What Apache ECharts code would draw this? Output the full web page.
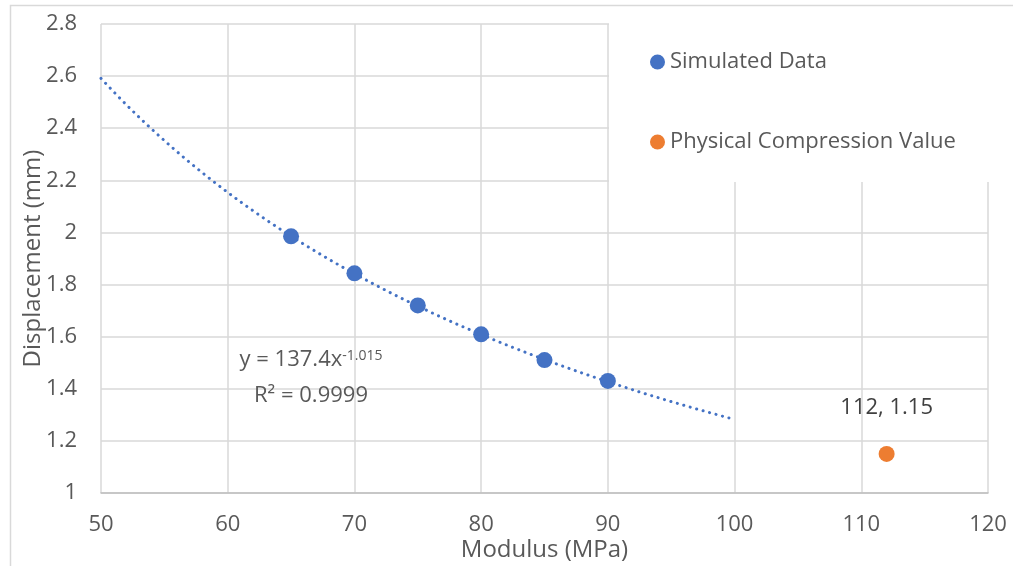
<!DOCTYPE html>
<html>
<head>
<meta charset="utf-8">
<script src="https://cdn.jsdelivr.net/npm/echarts@6/dist/echarts.min.js"></script>
<style>
  html, body { margin: 0; padding: 0; background: #fff; }
  #chart { width: 1013px; height: 566px; }
</style>
</head>
<body>
<div id="chart"></div>
<script>
// Simulated displacement at each modulus value
const modulus = [65, 70, 75, 80, 85, 90];
const displacement = [1.985, 1.843, 1.72, 1.609, 1.51, 1.43];

// Physically measured compression point
const physicalModulus = [112];
const physicalDisplacement = [1.15];

// Power-law trendline y = a * x^b, as printed on the chart
const trendCoef = 137.4;
const trendExponent = -1.015;
const trendRange = [50, 100];
const trendRSquared = '0.9999';

const xTicks = { min: 50, max: 120, step: 10 };
const yTicks = { min: 1, max: 2.8, step: 0.2 };

const FONT = '"Open Sans", sans-serif';
const TEXT = '#595959';
const BLUE = '#4472C4';
const ORANGE = '#ED7D31';

const trendData = [];
for (let x = trendRange[0]; x <= trendRange[1]; x += 0.5) {
  trendData.push([x, trendCoef * Math.pow(x, trendExponent)]);
}

const chart = echarts.init(document.getElementById('chart'), null, { renderer: 'canvas' });
chart.setOption({
  animation: false,
  backgroundColor: '#fff',
  textStyle: { fontFamily: FONT, color: TEXT },
  grid: { left: 101, right: 25, top: 24, bottom: 73, outerBoundsMode: 'none', containLabel: false },
  xAxis: {
    type: 'value',
    min: xTicks.min, max: xTicks.max, interval: xTicks.step,
    name: 'Modulus (MPa)',
    nameLocation: 'middle',
    nameGap: 45,
    nameMoveOverlap: false,
    nameTextStyle: { fontFamily: FONT, fontSize: 24, color: TEXT },
    axisLine: { show: true, lineStyle: { color: '#bfbfbf', width: 1.5 } },
    axisTick: { show: false },
    axisLabel: { fontFamily: FONT, fontSize: 22, color: TEXT, margin: 21 },
    splitLine: { show: true, lineStyle: { color: '#d9d9d9', width: 1.5 } }
  },
  yAxis: {
    type: 'value',
    min: yTicks.min, max: yTicks.max, interval: yTicks.step,
    name: 'Displacement (mm)',
    nameLocation: 'middle',
    nameGap: 56,
    nameMoveOverlap: false,
    nameTextStyle: { fontFamily: FONT, fontSize: 24, color: TEXT },
    axisLine: { show: false },
    axisTick: { show: false },
    axisLabel: {
      fontFamily: FONT, fontSize: 22, color: TEXT, margin: 24,
      formatter: v => String(parseFloat(v.toFixed(1)))
    },
    splitLine: { show: true, lineStyle: { color: '#d9d9d9', width: 1.5 } }
  },
  legend: {
    orient: 'vertical',
    left: 645,
    top: 46,
    itemGap: 58,
    itemWidth: 15,
    itemHeight: 15,
    icon: 'circle',
    data: ['Simulated Data', 'Physical Compression Value'],
    textStyle: { fontFamily: FONT, fontSize: 22, color: TEXT }
  },
  graphic: [
    // outer chart frame
    {
      type: 'rect', z: 0, silent: true,
      shape: { x: 10.5, y: 5.5, width: 1020, height: 600 },
      style: { fill: 'none', stroke: '#d9d9d9', lineWidth: 1.5 }
    },
    // legend backdrop
    {
      type: 'rect', z: 1, silent: true,
      shape: { x: 609, y: 7, width: 392, height: 175 },
      style: { fill: '#fff' }
    },
    // trendline equation
    {
      type: 'text', z: 5, silent: true,
      x: 311, y: 342,
      style: {
        text: '{b|y = 137.4x}{s|' + trendExponent + '}\n{b|R² = ' + trendRSquared + '}',
        align: 'center',
        fill: TEXT,
        rich: {
          b: { fontFamily: FONT, fontSize: 22, fill: TEXT, lineHeight: 36 },
          s: { fontFamily: FONT, fontSize: 14, fill: TEXT, lineHeight: 24, verticalAlign: 'top', padding: [7, 0, 0, 0] }
        }
      }
    }
  ],
  series: [
    {
      type: 'line',
      name: 'trend',
      data: trendData,
      showSymbol: false,
      smooth: false,
      z: 2,
      lineStyle: { color: BLUE, width: 3, type: [0.1, 6.6], cap: 'round' },
      silent: true
    },
    {
      type: 'scatter',
      name: 'Simulated Data',
      data: modulus.map((m, i) => [m, displacement[i]]),
      symbolSize: 16,
      z: 3,
      itemStyle: { color: BLUE, opacity: 1 }
    },
    {
      type: 'scatter',
      name: 'Physical Compression Value',
      data: physicalModulus.map((m, i) => [m, physicalDisplacement[i]]),
      symbolSize: 16,
      z: 3,
      itemStyle: { color: ORANGE, opacity: 1 },
      label: {
        show: true,
        position: 'top',
        distance: 27,
        fontFamily: FONT,
        fontSize: 22,
        color: '#404040',
        formatter: p => p.value[0] + ', ' + p.value[1]
      }
    }
  ]
});
</script>
</body>
</html>
